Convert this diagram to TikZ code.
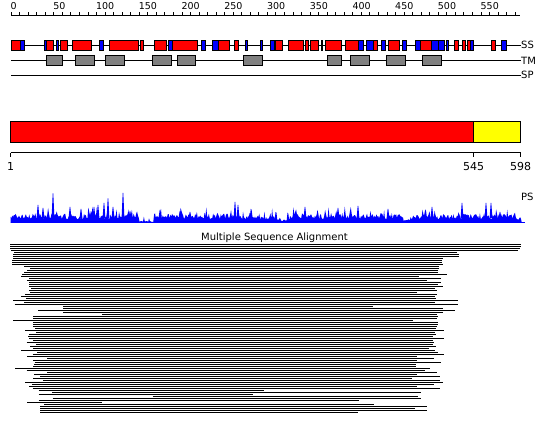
\documentclass[tikz,border=0pt]{standalone}
\usepackage{fontspec}
\setmainfont{DejaVu Sans}
\definecolor{helixred}{RGB}{255,0,0}
\definecolor{strandblue}{RGB}{0,0,255}
\definecolor{tmgray}{RGB}{128,128,128}
\definecolor{domyellow}{RGB}{255,255,0}

\tikzset{
  helix/.style={draw=black, fill=helixred, line width=0.8pt},
  strand/.style={draw=black, fill=strandblue, line width=0.8pt},
  tmbox/.style={draw=black, fill=tmgray, line width=0.8pt},
  track/.style={line width=0.8pt},
  msarow/.style={line width=1pt},
  lbl/.style={font=\fontsize{10}{12}\selectfont, inner sep=0pt},
}

\begin{document}
\begin{tikzpicture}[x=1pt, y=-1pt]
  \useasboundingbox[fill=white] (0,0) rectangle (550,435);
  \pgfmathsetseed{11}
  % residue ruler
  \coordinate (r0) at (11,15);
  \coordinate (rend) at (520,15);
  \draw[track] (r0) -- (rend);
  \foreach \p in {0,10,...,590}
    \draw[track] ({11+0.8545*\p},15) -- ({11+0.8545*\p},12.3);
  \foreach \p in {0,50,...,550}
    \node[lbl, anchor=base west] (rl\p) at ({11+0.8545*\p-0.5},10) {\fontsize{9.5}{10}\selectfont\p};

  % SS track
  \coordinate (ss0) at (11,45.3);
  \node[lbl, anchor=west] (ss) at (521,45.3) {SS};
  \draw[track] (ss0) -- (ss.west);
  \foreach \xa/\xb in {11/20.7, 46.3/53.3, 60.3/67.7, 72.3/91.7, 109.3/138.3, 140.3/143.7,
      154.3/166, 172.3/197.7, 218.3/229.7, 234.3/238.7, 275.5/282.7, 288.3/303.3,
      305.3/308.5, 310.5/318.3, 321/322.7, 325.3/341.7, 345.5/358.7, 373.5/377.3,
      388.3/399.7, 420.7/431.8, 454.3/458.7, 462.3/465.7, 467.3/470.3, 491.3/495.5}
    \draw[helix] (\xa,40.7) rectangle (\xb,50);
  \foreach \xa/\xb in {20.7/24.3, 44.3/46.3, 56/58.7, 99.3/103.7, 168.3/172.3, 201.3/205.7,
      212.3/218.3, 245/247.7, 260/262.7, 270/274, 358.7/363.5, 366.7/373.5, 381.3/385.5,
      402.5/406.7, 415.5/420.7, 431.8/438.5, 438.5/444.5, 446/448, 470.3/473.7, 501.3/506.7}
    \draw[strand] (\xa,40.7) rectangle (\xb,50);

  % TM track
  \coordinate (tm0) at (11,60.7);
  \node[lbl, anchor=west] (tm) at (521,60.7) {TM};
  \draw[track] (tm0) -- (tm.west);
  \foreach \xa/\xb in {46.3/62.7, 75.3/94.7, 105.3/124.7, 152.3/171.7, 177.3/195.7,
      243.3/262.7, 327.3/341.7, 350.3/369.7, 386.3/405.3, 422.3/441.7}
    \draw[tmbox] (\xa,55.7) rectangle (\xb,65.3);

  % SP track
  \coordinate (sp0) at (11,75.3);
  \node[lbl, anchor=west] (sp) at (521,75.3) {SP};
  \draw[track] (sp0) -- (sp.west);

  % domain bar
  \coordinate (b1) at (10.5,121.2);
  \coordinate (b545) at (473.7,142);
  \coordinate (b598) at (520.7,121.2);
  \draw[track, fill=helixred] (b1) rectangle (b545);
  \draw[track, fill=domyellow] (b545) rectangle (b598);
  \draw[track] (10.5,152.8) -- (520.7,152.8);
  \foreach \x/\t in {10.5/1, 473.7/545, 520.7/598} {
    \draw[track] (\x,152.8) -- (\x,157.4);
    \node[lbl, anchor=north, font=\fontsize{11}{13}\selectfont] (n\t) at (\x,162) {\t};
  }

  % PS profile
  \node[lbl, anchor=west] (ps) at (521,196.5) {PS};
  \fill[strandblue] (10.5,222.8)
    \foreach \ps/\pe/\lev in {1/151/8, 152/168/1.5, 169/265/8, 266/316/6.5, 317/327/3,
        328/460/7.5, 461/468/3, 469/590/7.5, 591/598/5}
    { \foreach \i in {\ps,...,\pe} { -- ({10.5+(\i-1)*0.855},{222.8-\lev*(0.45+0.7*rnd)-8*rnd^7}) } }
    -- (521.8,222.8) -- cycle;
  \foreach \x/\hh in {38/18, 43/15, 53/29.5, 70/16, 81/14, 94/16, 98/18, 104/20, 108/24.5,
      113/16, 123/30, 130/12, 160/13, 180/12, 190/11, 235/21, 238/18, 250/10, 305/16,
      338/15, 358/17, 388/14, 432/16, 462/20, 486/20, 491/20, 500/11}
    \fill[strandblue] (\x-1.4,218) -- (\x-0.3,222.8-\hh) -- (\x+0.3,222.8-\hh) -- (\x+1.4,218) -- cycle;
  \draw[strandblue, line width=1.2pt] (10.5,222.8) -- (525,222.8);

  % alignment
  \node[lbl, anchor=base] (msa) at (274.5,240.3) {Multiple Sequence Alignment};
  \foreach \row/\xa/\xb in {0/10/520.7, 1/10/520.7, 2/10/520, 3/11/518.3, 4/14/456.7,
      5/13.3/459.3, 6/13/459.3, 7/13.3/442.7, 8/12/441.7, 9/12/441.7, 10/12/442.7,
      11/24/438.7, 12/30/438.7, 13/27/437.7, 14/24/437.7, 15/22/446.7, 16/21/418.7,
      17/29/440.7, 18/27/427.3, 19/29/440.7, 20/29/437.7, 21/29/442.7, 22/31/435.3,
      23/29/436.7, 24/30/417.3, 25/25/436.7, 26/21/435.3, 27/26/436, 28/13/458.3,
      29/24/434.7, 30/14.7/458.3, 31/63/373.3, 32/63/442.7, 33/38/455.3, 34/63/442.7,
      35/102/436.7, 36/33/437.7, 37/33/437.3, 38/13/413.3, 39/33/437.7, 40/33/437.7,
      41/33/436.7, 42/35/436, 43/25/444, 44/36/435.3, 45/29.3/436, 46/28/433.3,
      47/29.3/444, 48/33.3/433.3, 49/26.7/434, 50/36/433.3, 51/30/436, 52/33.3/428.7,
      53/21.3/435, 54/37.3/437.7, 55/32.7/444, 56/27.3/417.3, 57/47.3/434.3,
      58/33.3/416.7, 59/34.7/440.7, 60/34/416, 61/33.3/416, 62/15.3/430, 63/26.7/425.3,
      64/47.3/437.3, 65/34/416.7, 66/40/440, 67/33.3/411.7, 68/43.3/440, 69/25.3/443.3,
      70/32/434.3, 71/29.3/417.3, 72/32.7/440, 73/38.6/264, 74/52/421, 75/38.6/253,
      76/152.6/417.5, 77/52.6/421, 78/38.6/358.6, 79/27/102, 80/44/373.7, 81/40/427,
      82/40/415, 83/40/427, 84/40/358}
    \draw[msarow] (\xa,245+2*\row) -- (\xb,245+2*\row);
\end{tikzpicture}
\end{document}
